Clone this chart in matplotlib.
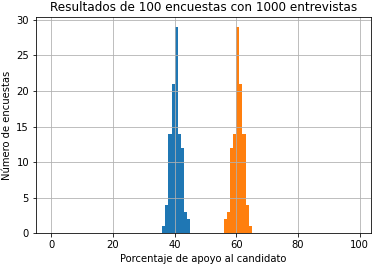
import matplotlib
matplotlib.use("Agg")
import matplotlib.pyplot as plt
import numpy as np

# Data
candidate_a_bins = [36, 37, 38, 39, 40, 41, 42, 43, 44]
candidate_a_counts = [1, 4, 14, 21, 29, 14, 12, 3, 2]
candidate_b_bins = [56, 57, 58, 59, 60, 61, 62, 63, 64]
candidate_b_counts = [2, 3, 12, 14, 29, 21, 14, 4, 1]

title = "Resultados de 100 encuestas con 1000 entrevistas"
xlabel = "Porcentaje de apoyo al candidato"
ylabel = "Número de encuestas"
xticks = [0, 20, 40, 60, 80, 100]
yticks = [0, 5, 10, 15, 20, 25, 30]

dpi = 72
fig = plt.figure(figsize=(372 / dpi, 264 / dpi), dpi=dpi)
ax = fig.add_axes([36 / 372, 1 - 233.3 / 264, (370.7 - 36) / 372, (233.3 - 16.7) / 264])

edges = list(range(0, 101))
ax.hist(candidate_a_bins, bins=edges, weights=candidate_a_counts, color="#1f77b4")
ax.hist(candidate_b_bins, bins=edges, weights=candidate_b_counts, color="#ff7f0e")

ax.set_xlim(-4.96, 103.6)
ax.set_ylim(0, 30.45)
ax.set_xticks(xticks)
ax.set_yticks(yticks)
ax.grid(True, color="#b0b0b0", linewidth=0.8)
ax.set_title(title, fontsize=12)
ax.set_xlabel(xlabel, fontsize=10)
ax.set_ylabel(ylabel, fontsize=10)
ax.tick_params(labelsize=10)

fig.savefig("out.png", dpi=dpi)
